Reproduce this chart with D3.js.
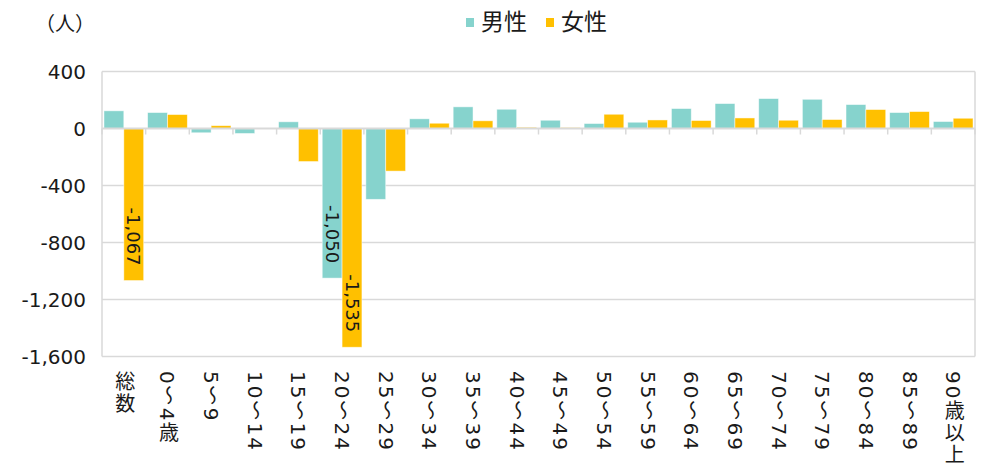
<!DOCTYPE html>
<html>
<head>
<meta charset="utf-8">
<script src="https://cdn.jsdelivr.net/npm/d3@7"></script>
<style>
  html, body { margin: 0; padding: 0; background: #fff; }
  svg { display: block; }
  text { font-family: "DejaVu Sans", "Noto Sans CJK JP", sans-serif; fill: #1a1a1a; }
</style>
</head>
<body>
<svg id="chart" width="984" height="464"></svg>
<script>
// 年齢階級別 人口増減（男女別）
const categories = ["総数", "0〜4歳", "5〜9", "10〜14", "15〜19", "20〜24", "25〜29", "30〜34",
  "35〜39", "40〜44", "45〜49", "50〜54", "55〜59", "60〜64", "65〜69", "70〜74",
  "75〜79", "80〜84", "85〜89", "90歳以上"];
const seriesNames = ["男性", "女性"];
const maleValues = [124, 112, -30, -35, 47, -1050, -497, 68, 152, 135, 58, 35, 44, 140, 175, 210, 205, 168, 112, 49];
const femaleValues = [-1067, 98, 20, -2, -232, -1535, -299, 37, 54, 8, 6, 100, 60, 56, 74, 58, 63, 133, 119, 72];
const yTicks = [400, 0, -400, -800, -1200, -1600];
// bars that carry a value label: [category, series]
const labelled = [["総数", "女性"], ["20〜24", "男性"], ["20〜24", "女性"]];
const unitLabel = "（人）";

const colors = { "男性": "#86D3CD", "女性": "#FFC000" };
const svg = d3.select("#chart");

const plot = { left: 102, right: 975, top: 71.5, bottom: 356.5 };

const x = d3.scaleBand().domain(categories)
  .range([plot.left, plot.right]).paddingInner(0.09).paddingOuter(0.045);
const xs = d3.scaleBand().domain(seriesNames).range([0, x.bandwidth()]);
const y = d3.scaleLinear().domain([-1600, 400]).range([plot.bottom, plot.top]);

const rows = categories.map((c, i) => ({ cat: c, "男性": maleValues[i], "女性": femaleValues[i] }));

const grid = "#d9d9d9";

// horizontal gridlines
svg.append("g").selectAll("line").data(yTicks.filter(t => t !== 0)).join("line")
  .attr("x1", plot.left).attr("x2", plot.right)
  .attr("y1", d => y(d)).attr("y2", d => y(d))
  .attr("stroke", grid).attr("stroke-width", 1.5);

// plot frame sides
svg.append("g").selectAll("line").data([plot.left, plot.right]).join("line")
  .attr("x1", d => d).attr("x2", d => d)
  .attr("y1", plot.top).attr("y2", plot.bottom)
  .attr("stroke", grid).attr("stroke-width", 1.5);

// bars
const groups = svg.append("g").selectAll("g").data(rows).join("g")
  .attr("transform", d => `translate(${x(d.cat)},0)`);
groups.selectAll("rect").data(d => seriesNames.map(s => ({ s, v: d[s], cat: d.cat }))).join("rect")
  .attr("x", d => xs(d.s))
  .attr("width", xs.bandwidth())
  .attr("y", d => Math.min(y(d.v), y(0)))
  .attr("height", d => Math.abs(y(d.v) - y(0)))
  .attr("fill", d => colors[d.s])
  .attr("stroke", "#ffffff").attr("stroke-opacity", 0.6).attr("stroke-width", 0.8);

// zero axis line with category tick marks
const bounds = categories.map(c => x(c) - x.step() * x.paddingInner() / 2).concat([plot.right]);
svg.append("g").selectAll("line").data(bounds).join("line")
  .attr("x1", d => d).attr("x2", d => d)
  .attr("y1", y(0)).attr("y2", y(0) + 6)
  .attr("stroke", grid).attr("stroke-width", 1.5);
svg.append("line")
  .attr("x1", plot.left).attr("x2", plot.right)
  .attr("y1", y(0)).attr("y2", y(0))
  .attr("stroke", grid).attr("stroke-width", 2);

// y axis labels
const fmt = d3.format(",");
svg.append("g").selectAll("text").data(yTicks).join("text")
  .attr("x", 86).attr("y", d => y(d))
  .attr("dy", "0.36em")
  .attr("text-anchor", "end")
  .style("font-size", "20px")
  .text(d => fmt(d).replace("−", "-"));

// category labels, vertical writing
svg.append("g").selectAll("text").data(categories).join("text")
  .attr("x", d => x(d) + x.bandwidth() / 2)
  .attr("y", 371)
  .style("writing-mode", "vertical-rl")
  .style("font-size", "20px")
  .style("letter-spacing", "2px")
  .text(d => d);

// value labels on selected bars, rotated, near the bar end
svg.append("g").selectAll("text").data(labelled.map(([c, s]) => ({ c, s, v: rows[categories.indexOf(c)][s] }))).join("text")
  .attr("transform", d => `translate(${x(d.c) + xs(d.s) + xs.bandwidth() / 2},${y(d.v) - 15}) rotate(90)`)
  .attr("text-anchor", "end")
  .attr("dy", "0.36em")
  .style("font-size", "18px")
  .text(d => fmt(d.v).replace("−", "-"));

// unit label
svg.append("text").attr("x", 65).attr("y", 31)
  .attr("text-anchor", "middle")
  .style("font-size", "20px")
  .style("font-family", "'Noto Sans CJK JP', sans-serif")
  .text(unitLabel);

// legend
const legend = svg.append("g").selectAll("g").data(seriesNames).join("g")
  .attr("transform", (d, i) => `translate(${466 + i * 80},0)`);
legend.append("rect").attr("x", 0).attr("y", 18).attr("width", 8).attr("height", 9)
  .attr("fill", d => colors[d]);
legend.append("text").attr("x", 15).attr("y", 22).attr("dy", "0.36em")
  .style("font-size", "23px")
  .style("font-family", "'Noto Sans CJK JP', sans-serif")
  .text(d => d);
</script>
</body>
</html>
